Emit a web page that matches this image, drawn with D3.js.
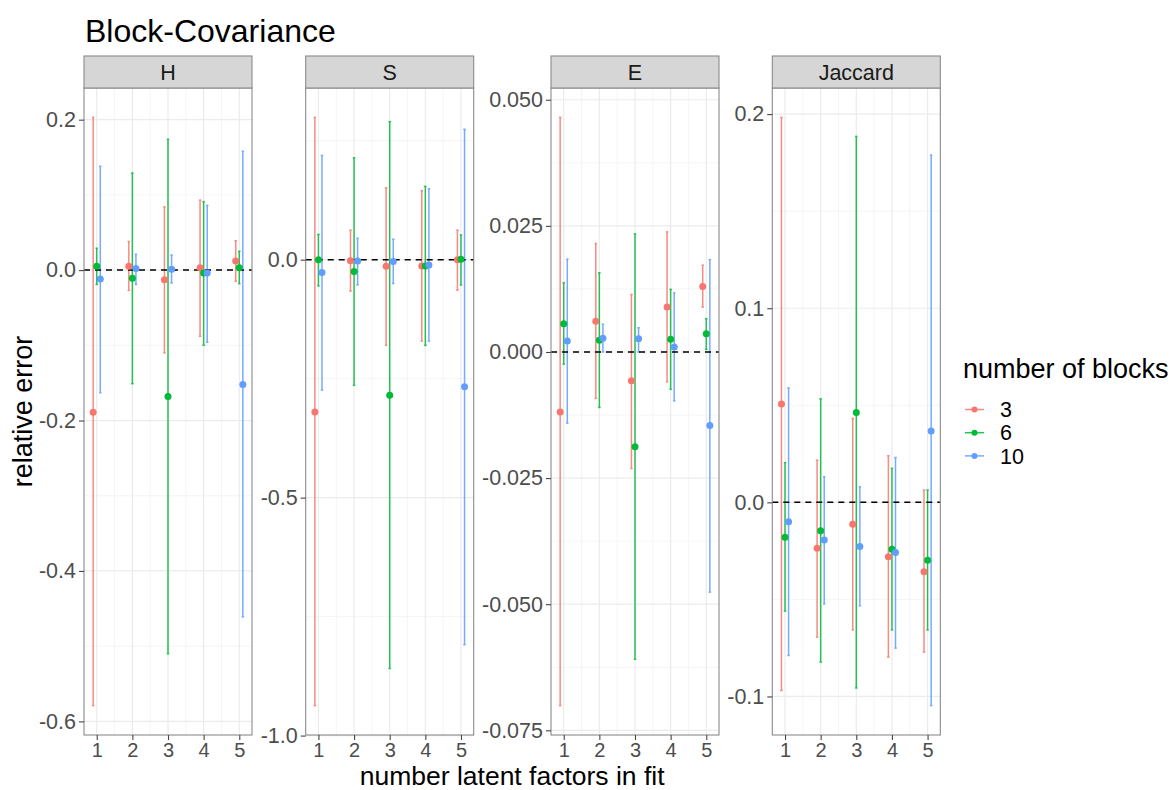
<!DOCTYPE html>
<html>
<head>
<meta charset="utf-8">
<script src="https://cdn.jsdelivr.net/npm/d3@7"></script>
<style>
  body { margin: 0; background: #fff; }
  text { font-family: "Liberation Sans", Arial, sans-serif; }
</style>
</head>
<body>
<div id="chart"></div>
<script>
// facets, x values and groups
var panels = ['H', 'S', 'E', 'Jaccard'];
var factors = [1, 2, 3, 4, 5];
var blocks = ['3', '6', '10'];
var blockColors = ['#F8766D', '#00BA38', '#619CFF'];

// rows = blocks (3, 6, 10), columns = latent factors 1..5
var hMean  = [[-0.189, 0.005, -0.013, 0.003, 0.012],
              [0.005, -0.011, -0.168, -0.004, 0.003],
              [-0.012, 0.002, 0.001, -0.004, -0.152]];
var hLower = [[-0.579, -0.027, -0.110, -0.088, -0.015],
              [-0.019, -0.151, -0.510, -0.100, -0.018],
              [-0.163, -0.019, -0.017, -0.096, -0.461]];
var hUpper = [[0.203, 0.038, 0.084, 0.093, 0.039],
              [0.029, 0.129, 0.174, 0.091, 0.025],
              [0.138, 0.021, 0.020, 0.086, 0.158]];

var sMean  = [[-0.320, -0.002, -0.014, -0.013, 0.000],
              [0.000, -0.025, -0.285, -0.013, 0.001],
              [-0.027, -0.003, -0.004, -0.011, -0.267]];
var sLower = [[-0.937, -0.066, -0.180, -0.171, -0.064],
              [-0.055, -0.264, -0.859, -0.180, -0.053],
              [-0.274, -0.053, -0.050, -0.171, -0.809]];
var sUpper = [[0.299, 0.062, 0.151, 0.145, 0.062],
              [0.053, 0.214, 0.290, 0.154, 0.052],
              [0.219, 0.045, 0.043, 0.149, 0.274]];

var eMean  = [[-0.0119, 0.0061, -0.0057, 0.0089, 0.0130],
              [0.0056, 0.0023, -0.0188, 0.0025, 0.0036],
              [0.0022, 0.0027, 0.0026, 0.0010, -0.0146]];
var eLower = [[-0.0701, -0.0092, -0.0231, -0.0059, 0.0089],
              [-0.0024, -0.0110, -0.0609, -0.0074, 0.0005],
              [-0.0141, 0.0000, 0.0000, -0.0097, -0.0476]];
var eUpper = [[0.0465, 0.0215, 0.0114, 0.0238, 0.0172],
              [0.0137, 0.0157, 0.0234, 0.0124, 0.0066],
              [0.0184, 0.0055, 0.0048, 0.0117, 0.0183]];

var jMean  = [[0.0507, -0.0237, -0.0113, -0.0280, -0.0357],
              [-0.0180, -0.0146, 0.0463, -0.0242, -0.0298],
              [-0.0100, -0.0194, -0.0228, -0.0259, 0.0367]];
var jLower = [[-0.0969, -0.0694, -0.0657, -0.0797, -0.0771],
              [-0.0560, -0.0823, -0.0956, -0.0657, -0.0657],
              [-0.0789, -0.0523, -0.0533, -0.0751, -0.1047]];
var jUpper = [[0.1983, 0.0217, 0.0432, 0.0240, 0.0063],
              [0.0204, 0.0533, 0.1885, 0.0175, 0.0063],
              [0.0589, 0.0132, 0.0080, 0.0231, 0.1789]];

// y ticks per facet (free scales)
var hTicks = [-0.6, -0.4, -0.2, 0, 0.2];
var hTickLabels = ['-0.6', '-0.4', '-0.2', '0.0', '0.2'];
var sTicks = [-1, -0.5, 0];
var sTickLabels = ['-1.0', '-0.5', '0.0'];
var eTicks = [-0.075, -0.05, -0.025, 0, 0.025, 0.05];
var eTickLabels = ['-0.075', '-0.050', '-0.025', '0.000', '0.025', '0.050'];
var jTicks = [-0.1, 0, 0.1, 0.2];
var jTickLabels = ['-0.1', '0.0', '0.1', '0.2'];
var factorLabels = ['1', '2', '3', '4', '5'];

var panelData = [
  {mean: hMean, lower: hLower, upper: hUpper, ticks: hTicks, labels: hTickLabels},
  {mean: sMean, lower: sLower, upper: sUpper, ticks: sTicks, labels: sTickLabels},
  {mean: eMean, lower: eLower, upper: eUpper, ticks: eTicks, labels: eTickLabels},
  {mean: jMean, lower: jLower, upper: jUpper, ticks: jTicks, labels: jTickLabels}
];

// layout
var W = 1172, H = 790;
var panelLeft = [84, 305.7, 551, 772.3];
var panelWidth = 168;
var plotTop = 88, plotBottom = 735, stripTop = 56;
var dodge = [-0.1, 0, 0.1];
var capHalf = 0.035;
var xDomain = [0.643, 5.357];

var svg = d3.select('#chart').append('svg')
  .attr('width', W)
  .attr('height', H);

svg.append('rect').attr('width', W).attr('height', H).attr('fill', '#fff');

svg.append('text')
  .attr('x', 85)
  .attr('y', 41.5)
  .attr('font-size', '32px')
  .attr('fill', '#000')
  .text('Block-Covariance');

function drawPanel(i) {
  var pd = panelData[i];
  var x0 = panelLeft[i];
  var g = svg.append('g');

  var xs = d3.scaleLinear().domain(xDomain).range([x0, x0 + panelWidth]);

  var all = d3.merge(pd.lower.concat(pd.upper));
  var lo = d3.min(all), hi = d3.max(all);
  var pad = (hi - lo) * 0.05;
  var ys = d3.scaleLinear().domain([lo - pad, hi + pad]).range([plotBottom, plotTop]);

  // minor grid (halfway between majors)
  var step = pd.ticks[1] - pd.ticks[0];
  var yMinor = [];
  for (var k = -1; k < pd.ticks.length; k++) {
    var v = pd.ticks[0] + (k + 0.5) * step;
    if (v > ys.domain()[0] && v < ys.domain()[1]) yMinor.push(v);
  }
  var xMinor = [1.5, 2.5, 3.5, 4.5];

  g.selectAll('.ymin').data(yMinor).enter().append('line')
    .attr('x1', x0).attr('x2', x0 + panelWidth)
    .attr('y1', function(d) { return ys(d); })
    .attr('y2', function(d) { return ys(d); })
    .attr('stroke', '#F3F3F3').attr('stroke-width', 0.8);
  g.selectAll('.xmin').data(xMinor).enter().append('line')
    .attr('y1', plotTop).attr('y2', plotBottom)
    .attr('x1', function(d) { return xs(d); })
    .attr('x2', function(d) { return xs(d); })
    .attr('stroke', '#F3F3F3').attr('stroke-width', 0.8);

  g.selectAll('.ymaj').data(pd.ticks).enter().append('line')
    .attr('x1', x0).attr('x2', x0 + panelWidth)
    .attr('y1', function(d) { return ys(d); })
    .attr('y2', function(d) { return ys(d); })
    .attr('stroke', '#EBEBEB').attr('stroke-width', 1.2);
  g.selectAll('.xmaj').data(factors).enter().append('line')
    .attr('y1', plotTop).attr('y2', plotBottom)
    .attr('x1', function(d) { return xs(d); })
    .attr('x2', function(d) { return xs(d); })
    .attr('stroke', '#EBEBEB').attr('stroke-width', 1.2);

  // errorbars
  blocks.forEach(function(b, bi) {
    var rows = factors.map(function(f, fi) {
      return {x: f + dodge[bi], m: pd.mean[bi][fi], l: pd.lower[bi][fi], u: pd.upper[bi][fi]};
    });
    var eg = g.append('g').attr('stroke', blockColors[bi]).attr('stroke-width', 1.5).attr('opacity', 0.85);
    eg.selectAll('.bar').data(rows).enter().append('line')
      .attr('x1', function(d) { return xs(d.x); })
      .attr('x2', function(d) { return xs(d.x); })
      .attr('y1', function(d) { return ys(d.l); })
      .attr('y2', function(d) { return ys(d.u); });
    eg.selectAll('.capl').data(rows).enter().append('line')
      .attr('x1', function(d) { return xs(d.x - capHalf); })
      .attr('x2', function(d) { return xs(d.x + capHalf); })
      .attr('y1', function(d) { return ys(d.l); })
      .attr('y2', function(d) { return ys(d.l); });
    eg.selectAll('.capu').data(rows).enter().append('line')
      .attr('x1', function(d) { return xs(d.x - capHalf); })
      .attr('x2', function(d) { return xs(d.x + capHalf); })
      .attr('y1', function(d) { return ys(d.u); })
      .attr('y2', function(d) { return ys(d.u); });
  });

  // zero reference line
  g.append('line')
    .attr('x1', x0).attr('x2', x0 + panelWidth)
    .attr('y1', ys(0)).attr('y2', ys(0))
    .attr('stroke', '#000').attr('stroke-width', 1.5)
    .attr('stroke-dasharray', '6,5');

  blocks.forEach(function(b, bi) {
    g.selectAll('.pt' + bi).data(factors).enter().append('circle')
      .attr('cx', function(f) { return xs(f + dodge[bi]); })
      .attr('cy', function(f, fi) { return ys(pd.mean[bi][fi]); })
      .attr('r', 3.5)
      .attr('fill', blockColors[bi]);
  });

  // border
  g.append('rect')
    .attr('x', x0).attr('y', plotTop)
    .attr('width', panelWidth).attr('height', plotBottom - plotTop)
    .attr('fill', 'none').attr('stroke', '#8a8a8a').attr('stroke-width', 1.1);

  // strip
  g.append('rect')
    .attr('x', x0).attr('y', stripTop)
    .attr('width', panelWidth).attr('height', plotTop - stripTop)
    .attr('fill', '#D6D6D6').attr('stroke', '#8a8a8a').attr('stroke-width', 1.1);
  g.append('text')
    .attr('x', x0 + panelWidth / 2)
    .attr('y', (stripTop + plotTop) / 2)
    .attr('dy', '0.36em')
    .attr('text-anchor', 'middle')
    .attr('font-size', '21.5px')
    .attr('fill', '#1A1A1A')
    .text(panels[i]);

  // axes
  var ya = g.append('g')
    .attr('transform', 'translate(' + x0 + ',0)')
    .call(d3.axisLeft(ys).tickValues(pd.ticks)
      .tickFormat(function(d, j) { return pd.labels[j]; })
      .tickSize(5).tickPadding(3));
  var xa = g.append('g')
    .attr('transform', 'translate(0,' + plotBottom + ')')
    .call(d3.axisBottom(xs).tickValues(factors)
      .tickFormat(function(d, j) { return factorLabels[j]; })
      .tickSize(5).tickPadding(3));
  [ya, xa].forEach(function(a) {
    a.select('.domain').remove();
    a.selectAll('.tick line').attr('stroke', '#444').attr('stroke-width', 1.1);
    a.selectAll('.tick text')
      .attr('font-size', '21.5px')
      .attr('fill', '#4D4D4D')
      .style('font-family', '"Liberation Sans", Arial, sans-serif');
  });
  xa.selectAll('.tick text').attr('font-size', '20px');
}

panels.forEach(function(p, i) { drawPanel(i); });

// axis titles
svg.append('text')
  .attr('x', (panelLeft[0] + panelLeft[3] + panelWidth) / 2)
  .attr('y', 785)
  .attr('text-anchor', 'middle')
  .attr('font-size', '26.5px')
  .attr('fill', '#000')
  .text('number latent factors in fit');

svg.append('text')
  .attr('transform', 'translate(32,' + (plotTop + plotBottom) / 2 + ') rotate(-90)')
  .attr('text-anchor', 'middle')
  .attr('font-size', '27px')
  .attr('fill', '#000')
  .text('relative error');

// legend
var legend = svg.append('g').attr('transform', 'translate(963,0)');
legend.append('text')
  .attr('x', 0).attr('y', 378)
  .attr('font-size', '27px')
  .attr('fill', '#000')
  .text('number of blocks');

var keys = legend.selectAll('.key').data(blocks).enter().append('g')
  .attr('transform', function(d, i) { return 'translate(0,' + (409.5 + i * 23.2) + ')'; });
keys.append('line')
  .attr('x1', 2).attr('x2', 21)
  .attr('stroke', function(d, i) { return blockColors[i]; })
  .attr('stroke-width', 1.5).attr('opacity', 0.85);
keys.append('circle')
  .attr('cx', 11.5).attr('r', 3)
  .attr('fill', function(d, i) { return blockColors[i]; });
keys.append('text')
  .attr('x', 37).attr('dy', '0.36em')
  .attr('font-size', '21.5px')
  .attr('fill', '#000')
  .text(function(d) { return d; });
</script>
</body>
</html>
